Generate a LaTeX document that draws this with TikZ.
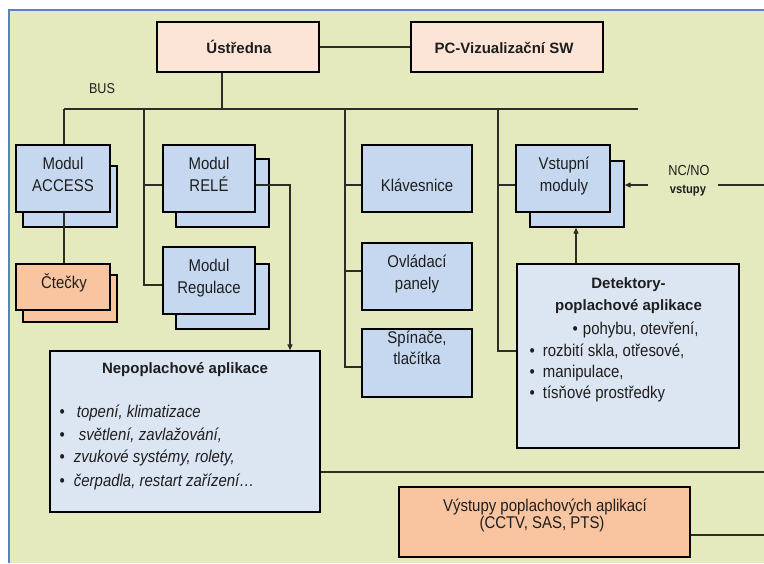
\documentclass[tikz,border=0pt]{standalone}
\usepackage{fontspec}
\setmainfont{Liberation Sans}
\newfontfamily\nf{Liberation Sans}[FakeStretch=0.88]
\usetikzlibrary{calc,arrows.meta}

\definecolor{panel}{RGB}{228,234,190}
\definecolor{frameblue}{RGB}{84,130,196}
\definecolor{modblue}{RGB}{198,216,240}
\definecolor{paleblue}{RGB}{220,229,242}
\definecolor{peach}{RGB}{252,228,214}
\definecolor{salmon}{RGB}{249,196,160}
\definecolor{wirecol}{RGB}{45,45,38}
\definecolor{ink}{RGB}{30,30,30}

\begin{document}
\begin{tikzpicture}[x=1pt,y=-1pt,
  box/.style={draw=black, line width=1.3pt, inner sep=0pt},
  modbox/.style={box, fill=modblue},
  appbox/.style={box, fill=paleblue},
  topbox/.style={box, fill=peach},
  outbox/.style={box, fill=salmon},
  rtx/.style={inner sep=0pt, anchor=base, text=ink, font=\nf\fontsize{17}{20}\selectfont},
  itx/.style={inner sep=0pt, anchor=base west, text=ink, font=\nf\itshape\fontsize{17}{20}\selectfont},
  ltx/.style={inner sep=0pt, anchor=base west, text=ink, font=\nf\fontsize{17}{20}\selectfont},
  btx/.style={inner sep=0pt, anchor=base, text=ink, font=\bfseries\fontsize{15}{18}\selectfont},
  wire/.style={draw=wirecol, line width=1.2pt},
  tip/.style={-{Triangle[length=6pt,width=5pt]}}
]
\useasboundingbox (0,0) rectangle (764,563);
\fill[white] (0,0) rectangle (764,563);
\fill[panel] (9,10) rectangle (764,563);
\draw[frameblue, line width=2pt] (9,563) -- (9,10) -- (764,10);

% --- top row ---
\node[topbox, minimum width=162pt, minimum height=50pt] (ustredna) at (238,47) {};
\node[topbox, minimum width=192pt, minimum height=50pt] (pc) at (507,47) {};
\node[btx] (ustredna-t) at (239,53) {Ústředna};
\node[btx] (pc-t) at (504,53) {PC-Vizualizační SW};
\node[rtx, font=\nf\fontsize{14.3}{16}\selectfont] (bus-t) at (102,93) {BUS};

% --- stacked modules (back sheet first) ---
\node[modbox, minimum width=94pt, minimum height=61pt] (accessB) at (70,196.5) {};
\node[modbox, minimum width=94pt, minimum height=67pt] (access) at (63,178.5) {};
\node[outbox, minimum width=94pt, minimum height=47pt] (cteckyB) at (70,298.5) {};
\node[outbox, minimum width=94pt, minimum height=46pt] (ctecky) at (63,287) {};
\node[modbox, minimum width=93pt, minimum height=68pt] (releB) at (222.5,193) {};
\node[modbox, minimum width=92pt, minimum height=67pt] (rele) at (209,178.5) {};
\node[modbox, minimum width=93pt, minimum height=65pt] (regB) at (222.5,296.5) {};
\node[modbox, minimum width=92pt, minimum height=67pt] (reg) at (209,280.5) {};
\node[modbox, minimum width=94pt, minimum height=66pt] (vstB) at (577,194) {};
\node[modbox, minimum width=94pt, minimum height=67pt] (vst) at (563,178.5) {};

% --- single modules ---
\node[modbox, minimum width=110pt, minimum height=67pt] (klav) at (417,178.5) {};
\node[modbox, minimum width=110pt, minimum height=67pt] (ovl) at (417,276.5) {};
\node[modbox, minimum width=110pt, minimum height=68pt] (spin) at (417,363) {};

% --- application boxes ---
\node[appbox, minimum width=222pt, minimum height=184pt] (det) at (628,356) {};
\node[appbox, minimum width=270pt, minimum height=161pt] (nepo) at (185,431.5) {};
\node[outbox, minimum width=291pt, minimum height=70pt] (vys) at (544.5,522) {};

% --- module labels ---
\node[rtx] (access-t1) at (63,169) {Modul};
\node[rtx] (access-t2) at (63,191) {ACCESS};
\node[rtx] (ctecky-t) at (64,288) {Čtečky};
\node[rtx] (rele-t1) at (209,169) {Modul};
\node[rtx] (rele-t2) at (209,191) {RELÉ};
\node[rtx] (reg-t1) at (209,271) {Modul};
\node[rtx] (reg-t2) at (209,293) {Regulace};
\node[rtx] (klav-t) at (417,191) {Klávesnice};
\node[rtx] (ovl-t1) at (417,267) {Ovládací};
\node[rtx] (ovl-t2) at (417,289) {panely};
\node[rtx] (spin-t1) at (417,343) {Spínače,};
\node[rtx] (spin-t2) at (417,364) {tlačítka};
\node[rtx] (vst-t1) at (564,169) {Vstupní};
\node[rtx] (vst-t2) at (564,191) {moduly};
\node[rtx, font=\nf\fontsize{14.5}{16}\selectfont] (nc-t1) at (689,175) {NC/NO};
\node[rtx, font=\nf\bfseries\fontsize{12.7}{14}\selectfont] (nc-t2) at (688,193) {vstupy};

% --- detector box text ---
\node[btx] (det-t1) at (628.5,288) {Detektory-};
\node[btx] (det-t2) at (628.5,310) {poplachové aplikace};
\node[ltx] (det-l1) at (572.5,334) {•\hspace{5pt}pohybu, otevření,};
\node[ltx] (det-l2) at (529.5,356) {•\hspace{8pt}rozbití skla, otřesové,};
\node[ltx] (det-l3) at (529.5,377) {•\hspace{8pt}manipulace,};
\node[ltx] (det-l4) at (529.5,398) {•\hspace{8pt}tísňové prostředky};

% --- non-alarm applications text ---
\node[btx] (nepo-t) at (185,373) {Nepoplachové aplikace};
\node[itx] (nepo-l1) at (59.5,417) {\upshape•\hspace{12pt}\itshape topení, klimatizace};
\node[itx] (nepo-l2) at (59.5,440) {\upshape•\hspace{14pt}\itshape světlení, zavlažování,};
\node[itx] (nepo-l3) at (59.5,462) {\upshape•\hspace{9pt}\itshape zvukové systémy, rolety,};
\node[itx] (nepo-l4) at (59.5,486) {\upshape•\hspace{9pt}\itshape čerpadla, restart zařízení…};

% --- alarm outputs text ---
\node[rtx] (vys-t1) at (545,511) {Výstupy poplachových aplikací};
\node[rtx] (vys-t2) at (542,528) {(CCTV, SAS, PTS)};

% --- bus and connectors ---
\coordinate (busL) at (64,109);
\coordinate (busR) at (638,109);
\coordinate (rim) at (764,0);
\coordinate (t1) at (144,109);
\coordinate (t2) at (345,109);
\coordinate (t3) at (498,109);
\coordinate (drop) at (290,185);

\draw[wire] (ustredna) -- (pc);
\draw[wire] ([xshift=-16pt]ustredna.south) -- ([xshift=-16pt]ustredna.south |- busL);
\draw[wire] (busL) -- (busR);

% access column
\draw[wire] (busL) -- (busL |- access.north);
\draw[wire] (access.south -| busL) -- (ctecky.north -| busL);

% relay / regulation column
\coordinate (relePin) at ($(rele.west)+(0,6.5)$);
\coordinate (regPin) at ($(reg.west)+(0,4.5)$);
\draw[wire] (t1) |- (regPin);
\draw[wire] (relePin -| t1) -- (relePin);
\draw[wire, tip] ($(rele.east)+(0,6.5)$) -- (drop) -- (drop |- nepo.north);
\draw[wire] ($(reg.east)+(0,3.5)$) -- ($(reg.east)+(0,3.5)$ -| drop);

% keypad column
\coordinate (klavPin) at ($(klav.west)+(0,6.5)$);
\coordinate (ovlPin) at ($(ovl.west)+(0,-5.5)$);
\coordinate (spinPin) at ($(spin.west)+(0,4)$);
\draw[wire] (t2) |- (spinPin);
\draw[wire] (klavPin -| t2) -- (klavPin);
\draw[wire] (ovlPin -| t2) -- (ovlPin);

% input column
\coordinate (vstPin) at ($(vst.west)+(0,6.5)$);
\coordinate (detPin) at ($(det.west)+(0,-5)$);
\draw[wire] (t3) |- (detPin);
\draw[wire] (vstPin -| t3) -- (vstPin);

% NC/NO inputs
\coordinate (ncL) at (648,185);
\coordinate (ncR) at (718,185);
\draw[wire, tip] (ncL) -- (ncL -| vstB.east);
\draw[wire] (ncR) -- (ncR -| rim);

% detectors feed the input modules
\coordinate (detUp) at ($(det.north)+(-52,0)$);
\draw[wire, tip] (detUp) -- (detUp |- vstB.south);

% outgoing lines
\coordinate (nepoPin) at ($(nepo.east)+(0,40.5)$);
\coordinate (vysPin) at ($(vys.east)+(0,13)$);
\draw[wire] (nepoPin) -- (nepoPin -| rim);
\draw[wire] (vysPin) -- (vysPin -| rim);
\end{tikzpicture}
\end{document}
